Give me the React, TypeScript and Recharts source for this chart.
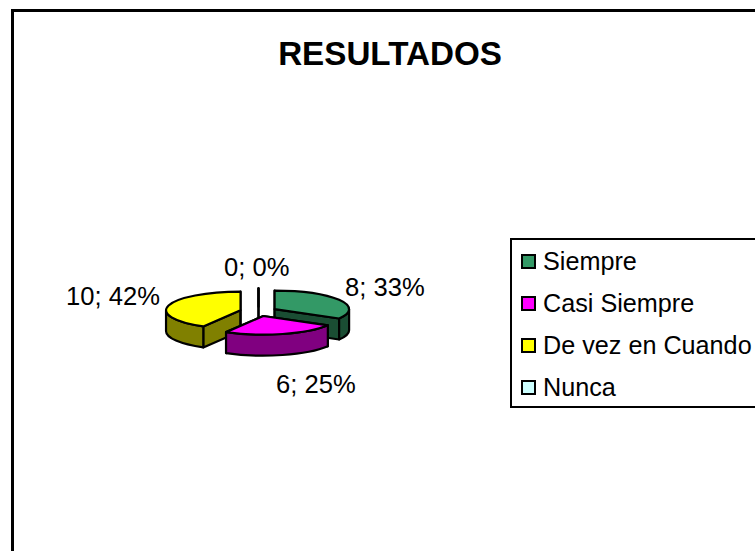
import { PieChart, Pie, Legend } from 'recharts';

const categories = ['Siempre', 'Casi Siempre', 'De vez en Cuando', 'Nunca'];
const values = [8, 6, 10, 0];
const topColors = ['#339966', '#ff00ff', '#ffff00', '#ccffff'];
const wallColors = ['#1a4d33', '#800080', '#808000', '#668080'];

// back to front, so the slices overlap like a real 3D pie
const drawOrder = [3, 2, 0, 1];

const data = categories.map((name, i) => ({ name, value: values[i], fill: topColors[i] }));

const FONT = '"Liberation Sans", Arial, sans-serif';
const SQUASH = 0.25;
const DEPTH = 21;
const EXPLODE = 18.6;
const RAD = Math.PI / 180;

// label anchors per slice
const labelSpots = [
  { x: 345, y: 296, anchor: 'start' },
  { x: 276, y: 393, anchor: 'start' },
  { x: 66, y: 305, anchor: 'start' },
  { x: 224, y: 276, anchor: 'start' },
];

function Slice3D(props: any) {
  const { cx, cy, outerRadius: r, startAngle: s, endAngle: e, index } = props;
  const mid = ((s + e) / 2) * RAD;
  const ox = cx + EXPLODE * Math.cos(mid);
  const oy = cy - EXPLODE * Math.sin(mid) * SQUASH;
  const rx = r;
  const ry = r * SQUASH;
  const at = (a: number, drop = 0) =>
    `${ox + rx * Math.cos(a * RAD)} ${oy - ry * Math.sin(a * RAD) + drop}`;
  const wall = wallColors[index];
  const top = topColors[index];
  const stroke = { stroke: '#000', strokeWidth: 2.2, strokeLinejoin: 'round' as const };

  const front0 = Math.min(s, 0);
  const front1 = Math.max(e, -180);
  const apex = `${ox} ${oy}`;
  const apexLow = `${ox} ${oy + DEPTH}`;
  const large = s - e > 180 ? 1 : 0;

  return (
    <g>
      <path d={`M${apex} L${at(s)} L${at(s, DEPTH)} L${apexLow} Z`} fill={wall} {...stroke} />
      <path d={`M${apex} L${at(e)} L${at(e, DEPTH)} L${apexLow} Z`} fill={wall} {...stroke} />
      {front0 > front1 && (
        <path
          d={`M${at(front0)} A${rx} ${ry} 0 0 1 ${at(front1)} L${at(front1, DEPTH)} A${rx} ${ry} 0 0 0 ${at(front0, DEPTH)} Z`}
          fill={wall}
          {...stroke}
        />
      )}
      <path d={`M${apex} L${at(s)} A${rx} ${ry} 0 ${large} 1 ${at(e)} Z`} fill={top} {...stroke} />
    </g>
  );
}

function renderLabel(props: any) {
  const spot = labelSpots[props.index];
  return (
    <text x={spot.x} y={spot.y} textAnchor={spot.anchor} fontFamily={FONT} fontSize={25.6} fill="#000">
      {`${props.value}; ${Math.round(props.percent * 100)}%`}
    </text>
  );
}

function LegendBox() {
  return (
    <div
      style={{
        boxSizing: 'border-box',
        width: 270,
        height: 170,
        border: '2px solid #000',
        background: '#fff',
        position: 'relative',
      }}
    >
      {categories.map((name, i) => (
        <div key={name} style={{ position: 'absolute', left: 0, top: 0 }}>
          <div
            style={{
              position: 'absolute',
              left: 9,
              top: 14 + i * 42,
              width: 15,
              height: 15,
              boxSizing: 'border-box',
              border: '2px solid #000',
              background: topColors[i],
            }}
          />
          <div
            style={{
              position: 'absolute',
              left: 31,
              top: 6 + i * 42,
              fontFamily: FONT,
              fontSize: 25.2,
              lineHeight: '30px',
              whiteSpace: 'nowrap',
              color: '#000',
            }}
          >
            {name}
          </div>
        </div>
      ))}
    </div>
  );
}

export default function App() {
  return (
    <div
      style={{
        position: 'absolute',
        left: 0,
        top: 0,
        width: 755,
        height: 551,
        overflow: 'hidden',
        background: '#fff',
      }}
    >
      <div
        style={{
          position: 'absolute',
          left: 11,
          top: 9,
          width: 900,
          height: 700,
          border: '3px solid #000',
          boxSizing: 'border-box',
        }}
      />
      <div style={{ position: 'absolute', left: 0, top: 0 }}>
        <PieChart width={755} height={551} margin={{ top: 0, right: 0, bottom: 0, left: 0 }}>
          <text
            x={390}
            y={65}
            textAnchor="middle"
            fontFamily={FONT}
            fontSize={33.2}
            fontWeight="bold"
            fill="#000"
          >
            RESULTADOS
          </text>
          {drawOrder.map((k, order) => (
            <Pie
              key={k}
              data={data}
              dataKey="value"
              nameKey="name"
              cx={258.5}
              cy={311.5}
              outerRadius={74.5}
              startAngle={90}
              endAngle={-270}
              isAnimationActive={false}
              legendType={order === 0 ? 'square' : 'none'}
              labelLine={false}
              label={order === drawOrder.length - 1 ? renderLabel : false}
              shape={(props: any) => (props.name === categories[k] ? <Slice3D {...props} index={k} /> : <g />)}
            />
          ))}
          <Legend
            content={<LegendBox />}
            wrapperStyle={{ position: 'absolute', left: 510, top: 238, width: 270, bottom: 'auto' }}
          />
        </PieChart>
      </div>
    </div>
  );
}
